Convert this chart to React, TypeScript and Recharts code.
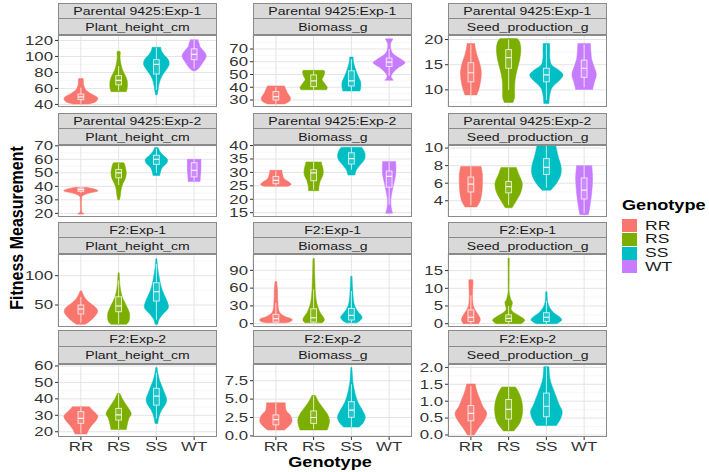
import React from 'react';
import { BarChart, Bar, XAxis, YAxis, CartesianGrid } from 'recharts';

const GENOTYPES = ['RR', 'RS', 'SS', 'WT'];
const COLORS: Record<string, string> = { RR: '#F8766D', RS: '#7CAE00', SS: '#00BFC4', WT: '#C77CFF' };
const EXPERIMENTS = ['Parental 9425:Exp-1', 'Parental 9425:Exp-2', 'F2:Exp-1', 'F2:Exp-2'];
const TRAITS = ['Plant_height_cm', 'Biomass_g', 'Seed_production_g'];

// density: [value, relative density], box: [lower whisker, q1, median, q3, upper whisker]
const R1_PLANT = [
  { g: 'RR', density: [[40.5, .45], [43, .85], [47, 1], [50, .9], [54, .55], [58, .3], [62, .2], [66, .15], [70, .15], [72.5, .13]], box: [41, 46, 49.5, 53, 61] },
  { g: 'RS', density: [[56, .45], [60, .5], [65, .52], [70, .5], [75, .42], [80, .3], [85, .2], [90, .14], [95, .1], [100, .08], [104, .1], [106.5, .08]], box: [57, 64.5, 70, 76, 88] },
  { g: 'SS', density: [[52, .05], [58, .1], [65, .15], [72, .25], [78, .4], [84, .6], [90, .75], [96, .7], [102, .45], [107, .3], [111.5, .25]], box: [58, 78, 90, 96, 111] },
  { g: 'WT', density: [[82, .08], [86, .3], [92, .5], [98, .68], [102, .7], [107, .55], [112, .35], [116, .3], [121, .22]], box: [85, 96, 102.5, 109.5, 121] },
];
const R1_BIO = [
  { g: 'RR', density: [[26.8, .5], [29, .8], [32, .85], [35, .7], [38, .6], [41, .5]], box: [27, 30, 32.6, 36.6, 40] },
  { g: 'RS', density: [[38, .75], [40, .8], [43, .65], [46, .5], [49, .6], [52, .65], [53.3, .6]], box: [38, 40.5, 45, 49.7, 53] },
  { g: 'SS', density: [[37, .5], [40, .55], [44, .55], [48, .42], [52, .3], [56, .2], [60, .12], [63.7, .1]], box: [37, 41, 45, 52.9, 62] },
  { g: 'WT', density: [[45.5, .25], [48, .12], [51, .2], [55, .5], [59, .93], [62, .7], [66, .25], [70, .1], [74, .08], [76, .15], [78, .22]], box: [49, 56.3, 59.7, 62.9, 70] },
];
const R1_SEED = [
  { g: 'RR', density: [[9, .35], [10.5, .5], [12.5, .6], [14, .6], [15.5, .5], [17, .35], [18.5, .25], [19.2, .23]], box: [9, 11.6, 13.4, 15.4, 19] },
  { g: 'RS', density: [[7.5, .25], [8.5, .35], [10, .35], [12, .38], [14, .5], [16, .65], [18, .72], [19.5, .65], [20.2, .5]], box: [10, 14.3, 16.4, 18, 20] },
  { g: 'SS', density: [[7.3, .15], [9, .2], [10.5, .35], [12, .8], [13, .98], [14, .7], [15, .3], [16.5, .2], [18, .2], [19.2, .19]], box: [8, 11.6, 13, 14.3, 19] },
  { g: 'WT', density: [[10.1, .5], [11.5, .6], [13, .72], [14.5, .6], [16, .45], [17.5, .4], [19.2, .37]], box: [10.5, 12.5, 14.3, 15.9, 19] },
];
const R2_PLANT = [
  { g: 'RR', density: [[19.5, .2], [21, .05], [25, .03], [30, .04], [33, .1], [35, .5], [36.5, 1], [38, .8], [39.3, .3]], box: [35, 36.3, 37.5, 38.7, 39.5] },
  { g: 'RS', density: [[30, .05], [33, .1], [38, .15], [42, .25], [46, .4], [50, .45], [54, .4], [56.5, .35], [57.5, .3]], box: [41, 46.3, 50, 52.5, 57] },
  { g: 'SS', density: [[48, .2], [51, .25], [54, .35], [57, .6], [60, .65], [63, .4], [66, .2], [68.7, .1]], box: [50, 56.3, 60, 63, 68] },
  { g: 'WT', density: [[43.5, .35], [48, .37], [52, .4], [56, .4], [60, .4]], box: [44, 47, 51.8, 57.5, 60] },
];
const R2_BIO = [
  { g: 'RR', density: [[24.8, .7], [25.5, .9], [26.5, .75], [27.5, .5], [29, .4], [30.8, .35]], box: [25, 25.8, 27, 28.5, 30.5] },
  { g: 'RS', density: [[23.2, .3], [25, .32], [27, .4], [29, .55], [31, .56], [33, .48], [33.9, .45]], box: [23.5, 26.9, 29.8, 31, 33.9] },
  { g: 'SS', density: [[29, .2], [31, .3], [33, .55], [35, .78], [37, .8], [38.5, .7], [39.4, .6]], box: [31, 33.1, 35.1, 37.3, 39.4] },
  { g: 'WT', density: [[14.8, .2], [17, .12], [20, .1], [23, .18], [26, .28], [29, .38], [32, .4], [34.1, .38]], box: [18, 24.5, 28.5, 30.5, 34] },
];
const R2_SEED = [
  { g: 'RR', density: [[3.3, .35], [4, .55], [5, .65], [6, .68], [7, .68], [7.9, .6]], box: [3.5, 5, 5.9, 6.7, 7.9] },
  { g: 'RS', density: [[3.2, .2], [4, .45], [5, .72], [6, .8], [7, .6], [7.8, .45]], box: [3.5, 4.9, 5.6, 6.2, 7.8] },
  { g: 'SS', density: [[5.2, .25], [6, .6], [7, .85], [8, .85], [9, .7], [10.3, .55]], box: [5.5, 7, 7.8, 8.8, 10.3] },
  { g: 'WT', density: [[2.4, .25], [3.5, .35], [5, .45], [6.5, .5], [8, .45]], box: [2.6, 4.2, 5.2, 6.6, 8] },
];
const R3_PLANT = [
  { g: 'RR', density: [[17, .25], [22, .5], [30, .8], [38, .98], [45, .9], [52, .6], [58, .35], [64, .2], [70, .1], [74, .05]], box: [20, 34.7, 43.2, 50, 64] },
  { g: 'RS', density: [[17, .45], [22, .6], [30, .65], [38, .62], [46, .5], [55, .35], [65, .2], [75, .12], [85, .07], [95, .05], [105, .03]], box: [18, 38.6, 48.3, 64, 92] },
  { g: 'SS', density: [[17, .08], [25, .15], [35, .4], [45, .7], [55, .65], [65, .5], [75, .35], [85, .25], [95, .18], [105, .12], [115, .07], [129, .03]], box: [25, 56.8, 72.7, 88, 120] },
  { g: 'WT', density: [], box: [] },
];
const R3_BIO = [
  { g: 'RR', density: [[1.5, .6], [4, .9], [8, .93], [12, .55], [18, .25], [25, .15], [35, .12], [45, .1], [55, .1], [65, .07], [71, .05]], box: [1.5, 2.8, 8.4, 15.7, 35] },
  { g: 'RS', density: [[1.5, .5], [5, .62], [10, .6], [18, .4], [28, .25], [40, .15], [55, .1], [70, .08], [85, .06], [100, .05], [110, .04]], box: [1.5, 2.8, 10, 25.2, 58] },
  { g: 'SS', density: [[1.5, .3], [5, .5], [10, .63], [15, .55], [22, .35], [30, .2], [40, .12], [55, .08], [70, .05], [80, .04]], box: [1.5, 6.2, 14, 25.8, 55] },
  { g: 'WT', density: [], box: [] },
];
const R3_SEED = [
  { g: 'RR', density: [[0, .45], [1, .55], [2, .5], [3.5, .3], [5, .15], [7, .1], [9, .1], [11, .12], [12.4, .12]], box: [0, .6, 1.8, 3.9, 8] },
  { g: 'RS', density: [[0, .75], [1, .95], [2, .7], [3, .35], [4, .15], [5, .18], [6, .22], [7, .12], [9, .03], [12, .03], [15, .03], [18.5, .04]], box: [0, .6, 1.5, 2.5, 5] },
  { g: 'SS', density: [[0, .6], [1, .9], [2, .75], [3, .45], [4.5, .2], [6, .08], [7.5, .05], [9, .04]], box: [0, .6, 1.8, 3.1, 6.5] },
  { g: 'WT', density: [], box: [] },
];
const R4_PLANT = [
  { g: 'RR', density: [[18.6, .35], [21, .45], [24, .65], [27, .9], [29.5, 1], [32, .8], [34, .6], [35.2, .5]], box: [19, 25.1, 28.1, 32.2, 35] },
  { g: 'RS', density: [[21.3, .45], [24, .5], [28, .6], [31, .74], [34, .6], [37, .4], [40, .22], [43.3, .08]], box: [21.5, 27.1, 30.2, 34.2, 43] },
  { g: 'SS', density: [[25, .08], [29, .15], [33, .3], [37, .55], [40, .6], [43, .5], [47, .35], [51, .2], [55, .1], [59, .04]], box: [28, 36.2, 41.7, 46.4, 56] },
  { g: 'WT', density: [], box: [] },
];
const R4_BIO = [
  { g: 'RR', density: [[.8, .5], [1.3, .75], [2, .95], [2.8, .85], [3.5, .6], [4.5, .55]], box: [.8, 1.5, 2.2, 2.85, 4.5] },
  { g: 'RS', density: [[.8, .8], [1.5, .9], [2.2, .93], [3, .8], [3.8, .55], [4.6, .3], [5.5, .1]], box: [.9, 1.7, 2.5, 3.4, 5.4] },
  { g: 'SS', density: [[1.2, .45], [1.8, .7], [2.6, .82], [3.5, .65], [4.5, .4], [5.5, .25], [6.5, .15], [7.5, .08], [8.5, .05], [9.3, .03]], box: [1.2, 2.53, 3.5, 4.65, 7] },
  { g: 'WT', density: [], box: [] },
];
const R4_SEED = [
  { g: 'RR', density: [[0, .2], [.2, .45], [.45, .8], [.65, .93], [.85, .7], [1.1, .5], [1.3, .35], [1.51, .25]], box: [0, .42, .64, .87, 1.45] },
  { g: 'RS', density: [[.12, .3], [.35, .65], [.6, .8], [.85, .82], [1.1, .72], [1.3, .55], [1.42, .4]], box: [.13, .47, .76, 1.05, 1.42] },
  { g: 'SS', density: [[.28, .6], [.5, .85], [.7, .93], [.9, .75], [1.1, .6], [1.3, .45], [1.5, .3], [1.7, .2], [2.02, .15]], box: [.3, .54, .85, 1.24, 2.0] },
  { g: 'WT', density: [], box: [] },
];

const R1_PLANT_TICKS = [40, 60, 80, 100, 120];
const R1_BIO_TICKS = [30, 40, 50, 60, 70];
const R1_SEED_TICKS = [10, 15, 20];
const R2_PLANT_TICKS = [20, 30, 40, 50, 60, 70];
const R2_BIO_TICKS = [15, 20, 25, 30, 35, 40];
const R2_SEED_TICKS = [4, 6, 8, 10];
const R3_PLANT_TICKS = [50, 100];
const R3_BIO_TICKS = [0, 30, 60, 90];
const R3_SEED_TICKS = [0, 5, 10, 15];
const R4_PLANT_TICKS = [20, 30, 40, 50, 60];
const R4_BIO_TICKS = [0, 2.5, 5, 7.5];
const R4_SEED_TICKS = [0, 0.5, 1, 1.5, 2];

const R1_DOMAINS = [[36.8, 126.8], [24.5, 81], [6.6, 20.9]];
const R2_DOMAINS = [[17.3, 70.6], [13.4, 40.2], [2.15, 10.35]];
const R3_DOMAINS = [[12.5, 137], [-5.6, 117.6], [-0.94, 19.7]];
const R4_DOMAINS = [[16.8, 61.2], [-0.15, 9.77], [-0.06, 2.1]];

const FONT = '"Liberation Sans", Arial, Helvetica, sans-serif';
const COL_LEFT = [58, 253, 448];
const PW = 159;
const ROWS = [
  { strip: 3, top: 35, bottom: 107 },
  { strip: 113, top: 145, bottom: 217 },
  { strip: 222, top: 254, bottom: 327 },
  { strip: 330, top: 364, bottom: 437 },
];
const AXW = 50;
const PAD = 8;

function minorOf(ticks: number[], domain: number[]) {
  const step = ticks.length > 1 ? ticks[1] - ticks[0] : 1;
  const out: number[] = [];
  for (let v = ticks[0] - step / 2; v <= domain[1]; v += step) {
    if (v >= domain[0] && v <= domain[1]) out.push(+v.toFixed(6));
  }
  return out;
}

function toRows(list: any[]) {
  return GENOTYPES.map((g) => {
    const e = list.find((x) => x.g === g);
    if (!e || !e.density.length) return { g, range: null };
    return { g, range: [e.density[0][0], e.density[e.density.length - 1][0]], density: e.density, box: e.box };
  });
}

function smooth(pts: number[][]) {
  let s = '';
  for (let i = 0; i < pts.length - 1; i++) {
    const p0 = pts[Math.max(0, i - 1)];
    const p1 = pts[i];
    const p2 = pts[i + 1];
    const p3 = pts[Math.min(pts.length - 1, i + 2)];
    const c1x = p1[0] + (p2[0] - p0[0]) / 6;
    const c1y = p1[1] + (p2[1] - p0[1]) / 6;
    const c2x = p2[0] - (p3[0] - p1[0]) / 6;
    const c2y = p2[1] - (p3[1] - p1[1]) / 6;
    s += `C${c1x},${c1y} ${c2x},${c2y} ${p2[0]},${p2[1]}`;
  }
  return s;
}

function Violin(props: any) {
  const { x, y, width, height, payload } = props;
  if (!payload || !payload.density || !payload.density.length || height == null || isNaN(y)) return null;
  const d = payload.density;
  const lo = d[0][0];
  const hi = d[d.length - 1][0];
  const top = Math.min(y, y + height);
  const h = Math.abs(height);
  const toY = (v: number) => top + (h * (hi - v)) / (hi - lo);
  const cx = x + width / 2;
  const hw = width / 2;
  const right = d.map(([v, w]: number[]) => [cx + w * hw, toY(v)]);
  const left = d.slice().reverse().map(([v, w]: number[]) => [cx - w * hw, toY(v)]);
  const path = `M${right[0][0]},${right[0][1]}` + smooth(right) + `L${left[0][0]},${left[0][1]}` + smooth(left) + 'Z';
  const [wl, q1, md, q3, wh] = payload.box;
  const bw = width * 0.17;
  const col = COLORS[payload.g];
  const lc = 'rgba(255,255,255,0.75)';
  return (
    <g>
      <path d={path} fill={col} stroke={col} strokeWidth={0.5} />
      <line x1={cx} x2={cx} y1={toY(wh)} y2={toY(q3)} stroke={lc} strokeWidth={1} />
      <line x1={cx} x2={cx} y1={toY(q1)} y2={toY(wl)} stroke={lc} strokeWidth={1} />
      <rect x={cx - bw / 2} y={toY(q3)} width={bw} height={Math.max(0.5, toY(q1) - toY(q3))} fill="rgba(255,255,255,0.12)" stroke={lc} strokeWidth={1} />
      <line x1={cx - bw / 2} x2={cx + bw / 2} y1={toY(md)} y2={toY(md)} stroke="rgba(255,255,255,0.9)" strokeWidth={1.2} />
    </g>
  );
}

const fmtInt = (v: number) => String(v);
const fmt1 = (v: number) => v.toFixed(1);

function makeYTick(fmt: (v: number) => string) {
  return (props: any) => {
    const { x, y, payload } = props;
    return (
      <g transform={`translate(${x},${y})`}>
        <text transform="scale(1.4,1)" x={0} y={0} dy="0.36em" textAnchor="end" fontSize={12} fontFamily={FONT} fill="#333">
          {fmt(payload.value)}
        </text>
      </g>
    );
  };
}

const XTick = (props: any) => {
  const { x, y, payload } = props;
  return (
    <g transform={`translate(${x},${y})`}>
      <text transform="scale(1.35,1)" x={0} y={0} dy="0.75em" textAnchor="middle" fontSize={12.5} fontFamily={FONT} fill="#333">
        {payload.value}
      </text>
    </g>
  );
};

const PANELS = [
  [R1_PLANT, R1_BIO, R1_SEED],
  [R2_PLANT, R2_BIO, R2_SEED],
  [R3_PLANT, R3_BIO, R3_SEED],
  [R4_PLANT, R4_BIO, R4_SEED],
];
const TICKS = [
  [R1_PLANT_TICKS, R1_BIO_TICKS, R1_SEED_TICKS],
  [R2_PLANT_TICKS, R2_BIO_TICKS, R2_SEED_TICKS],
  [R3_PLANT_TICKS, R3_BIO_TICKS, R3_SEED_TICKS],
  [R4_PLANT_TICKS, R4_BIO_TICKS, R4_SEED_TICKS],
];
const DOMAINS = [R1_DOMAINS, R2_DOMAINS, R3_DOMAINS, R4_DOMAINS];

function Panel({ r, c }: { r: number; c: number }) {
  const row = ROWS[r];
  const plotH = row.bottom - row.top;
  const bottom = r === 3;
  const ticks = TICKS[r][c];
  const domain = DOMAINS[r][c];
  const minor = minorOf(ticks, domain);
  const data = toRows(PANELS[r][c]);
  const fmt = r === 3 && c > 0 ? fmt1 : fmtInt;
  const stripH = (row.top - row.strip) / 2;
  const stripStyle: React.CSSProperties = {
    position: 'absolute',
    left: COL_LEFT[c],
    width: PW,
    height: stripH,
    background: '#D9D9D9',
    border: '1px solid #8a8a8a',
    boxSizing: 'border-box',
    display: 'flex',
    alignItems: 'center',
    justifyContent: 'center',
    fontFamily: FONT,
    fontSize: 11.7,
    lineHeight: '12px',
    color: '#1A1A1A',
    whiteSpace: 'nowrap',
    overflow: 'visible',
  };
  return (
    <>
      <div style={{ ...stripStyle, top: row.strip }}>
        <span style={{ display: 'inline-block', transform: 'scaleX(1.2)' }}>{EXPERIMENTS[r]}</span>
      </div>
      <div style={{ ...stripStyle, top: row.strip + stripH - 1, height: stripH + 1 }}>
        <span style={{ display: 'inline-block', transform: 'scaleX(1.2)' }}>{TRAITS[c]}</span>
      </div>
      <div style={{ position: 'absolute', left: COL_LEFT[c] - AXW, top: row.top - PAD }}>
        <BarChart
          width={AXW + PW}
          height={plotH + PAD + (bottom ? 26 : PAD)}
          data={data}
          margin={{ top: PAD, right: 0, bottom: bottom ? 0 : PAD, left: 0 }}
          barCategoryGap="5%"
        >
          <CartesianGrid vertical={false} horizontalValues={minor} stroke="#F1F1F1" strokeWidth={0.6} />
          <CartesianGrid horizontalValues={ticks} stroke="#E4E4E4" strokeWidth={1} />
          <XAxis
            dataKey="g"
            type="category"
            padding={{ left: 4, right: 4 }}
            hide={!bottom}
            height={26}
            axisLine={false}
            tickLine={{ stroke: '#333' }}
            tickSize={3}
            tickMargin={2}
            interval={0}
            tick={XTick}
          />
          <YAxis
            type="number"
            domain={domain}
            ticks={ticks}
            allowDataOverflow
            width={AXW}
            axisLine={false}
            tickLine={{ stroke: '#333' }}
            tickSize={3}
            tickMargin={2}
            interval={0}
            tick={makeYTick(fmt)}
          />
          <Bar dataKey="range" isAnimationActive={false} shape={(p: any) => <Violin {...p} />} />
        </BarChart>
      </div>
      <div
        style={{
          position: 'absolute',
          left: COL_LEFT[c],
          top: row.top,
          width: PW,
          height: plotH,
          border: '1px solid #8a8a8a',
          boxSizing: 'border-box',
          pointerEvents: 'none',
        }}
      />
    </>
  );
}

export default function App() {
  const panels: React.ReactNode[] = [];
  for (let r = 0; r < 4; r++) for (let c = 0; c < 3; c++) panels.push(<Panel key={`${r}-${c}`} r={r} c={c} />);
  return (
    <div style={{ position: 'absolute', left: 0, top: 0, width: 709, height: 472, background: '#fff', overflow: 'hidden', fontFamily: FONT }}>
      {panels}
      <div
        style={{
          position: 'absolute',
          left: 17,
          top: 228,
          transform: 'translate(-50%,-50%) rotate(-90deg) scale(1,1.2)',
          whiteSpace: 'nowrap',
          fontWeight: 'bold',
          fontSize: 16,
          lineHeight: '16px',
          color: '#000',
        }}
      >
        Fitness Measurement
      </div>
      <div
        style={{
          position: 'absolute',
          left: 330,
          top: 462,
          transform: 'translate(-50%,-50%) scaleX(1.25)',
          whiteSpace: 'nowrap',
          fontWeight: 'bold',
          fontSize: 14.5,
          lineHeight: '15px',
          color: '#000',
        }}
      >
        Genotype
      </div>
      <div
        style={{
          position: 'absolute',
          left: 622,
          top: 205,
          transform: 'translateY(-50%) scaleX(1.25)',
          transformOrigin: 'left center',
          whiteSpace: 'nowrap',
          fontWeight: 'bold',
          fontSize: 14.5,
          lineHeight: '15px',
          color: '#000',
        }}
      >
        Genotype
      </div>
      {GENOTYPES.map((g, i) => (
        <React.Fragment key={g}>
          <div style={{ position: 'absolute', left: 622, top: 219 + i * 13.8, width: 15, height: 13, background: COLORS[g] }} />
          <div
            style={{
              position: 'absolute',
              left: 645,
              top: 219 + i * 13.8 + 6.5,
              transform: 'translateY(-50%) scaleX(1.3)',
              transformOrigin: 'left center',
              fontSize: 13.5,
              lineHeight: '12px',
              color: '#1A1A1A',
              whiteSpace: 'nowrap',
            }}
          >
            {g}
          </div>
        </React.Fragment>
      ))}
    </div>
  );
}
